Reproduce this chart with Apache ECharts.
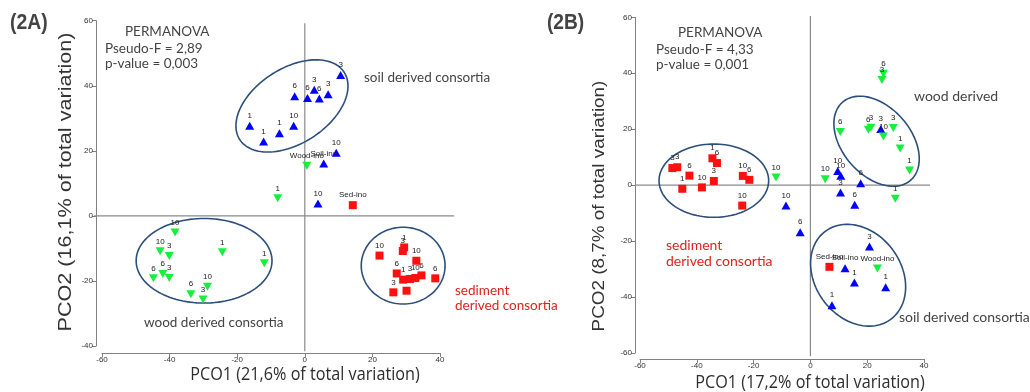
<!DOCTYPE html>
<html>
<head>
<meta charset="utf-8">
<script src="https://cdn.jsdelivr.net/npm/echarts@6/dist/echarts.min.js"></script>
<style>html,body{margin:0;padding:0;background:#fff}#c{width:1030px;height:392px}</style>
</head>
<body>
<div id="c"></div>
<script>
// ---------- DATA (x, y, label) ----------
// Panel 2A
const aSoil = [[10.6,43.3,'3'],[2.8,38.8,'3'],[-3.0,36.8,'6'],[0.8,36.2,'6'],[4.3,36.1,'6'],[6.9,37.4,'3'],
  [-3.3,27.7,'10'],[-16.3,27.7,'1'],[-12.2,22.9,'1'],[-7.5,25.4,'1'],[9.3,19.4,'10'],[5.6,16.1,'Soil-ino'],[3.9,3.8,'10']];
const aWood = [[0.6,15.4,'Wood-ino'],[-8.0,5.4,'1'],[-38.4,-5.1,'10'],[-42.8,-10.9,'10'],[-40.1,-12.3,'3'],
  [-24.4,-11.2,'1'],[-12.0,-14.6,'1'],[-44.8,-19.2,'6'],[-42.0,-17.9,'6'],[-40.1,-19.1,'3'],[-28.8,-21.8,'10'],
  [-33.7,-24.1,'6'],[-30.1,-25.7,'3']];
const aSed = [[14.2,3.3,'Sed-ino'],[22.1,-12.2,'10'],[29.4,-9.7,'1'],[29.0,-10.8,'3'],[33.0,-13.8,'10'],
  [27.2,-17.7,'6'],[29.1,-19.6,'1'],[31.1,-19.4,'3'],[32.7,-19.1,'10'],[34.5,-18.3,'6'],[38.6,-19.2,'6'],
  [26.2,-23.5,'3'],[30.1,-23.0,'']];
// ellipses: [cx, cy, rx, ry, angleDeg]
const aEllipses = [[-3.8,33.8,18.6,11.4,35],[-29.8,-13.8,20.1,13.0,0],[29.1,-15.3,12.4,11.8,0]];
const aCrossX = [-62.3,44.2];
const aCrossY = [-41.6,59.2];

// Panel 2B
const bSoil = [[24.8,20.1,'3'],[9.6,5.1,'10'],[10.7,3.4,'10'],[17.7,0.7,'6'],[10.6,-2.6,'3'],[15.6,-7.0,'6'],
  [-8.6,-7.3,'10'],[-3.6,-16.8,'6'],[20.8,-21.9,'3'],[12.2,-29.7,'Soil-ino'],[15.5,-34.8,'1'],[26.5,-36.5,'1'],[7.6,-42.9,'1']];
const bWood = [[-12.1,2.7,'10'],[5.2,2.1,'10'],[25.7,39.8,'6'],[25.2,37.6,'3'],[10.5,19.0,'6'],[20.4,19.8,'6'],
  [21.3,20.5,'3'],[25.7,17.4,'10'],[29.2,20.4,'3'],[31.6,13.1,'1'],[34.9,5.2,'1'],[29.9,-4.9,'1'],[23.6,-29.8,'Wood-ino']];
const bSed = [[-48.6,6.1,'3'],[-46.9,6.4,'3'],[-42.6,3.4,'6'],[-45.1,-1.3,'1'],[-38.2,-0.8,'10'],[-34.5,9.6,'1'],
  [-32.9,7.9,'6'],[-34.0,1.5,'3'],[-23.8,3.3,'10'],[-21.5,1.9,'6'],[-24.0,-7.3,'10'],[6.7,-29.2,'Sed-ino']];
const bEllipses = [[23.3,15.7,18.4,12.1,-50],[-34.0,1.6,19.3,13.1,0],[16.8,-32.2,19.5,15.2,-55]];
const bCrossX = [-61.7,42.1];
const bCrossY = [-61.2,60.5];

// ---------- CHART ----------
const BLUE = '#0000ff', GREEN = '#16f03c', RED = '#ff1010', ELL = '#2b4f7a', AX = '#808080';
const chart = echarts.init(document.getElementById('c'), null, {renderer: 'canvas'});

function axisCommon(min, max, offset) {
  return {
    type: 'value', min: min, max: max, interval: 20, offset: offset,
    axisLine: {show: true, onZero: false, lineStyle: {color: AX, width: 1}},
    axisTick: {show: true, length: 4, lineStyle: {color: AX}},
    axisLabel: {fontSize: 8, color: '#333', fontFamily: 'Liberation Sans, Arial', margin: 3},
    splitLine: {show: false}
  };
}

function scatter(data, idx, color, symbol, rotate, size) {
  return {
    type: 'scatter', xAxisIndex: idx, yAxisIndex: idx,
    data: data.map(d => ({value: [d[0], d[1]], name: d[2]})),
    symbol: symbol, symbolRotate: rotate, symbolSize: size,
    itemStyle: {color: color, opacity: 1},
    label: {show: true, position: 'top', distance: 2, formatter: p => p.name,
      fontSize: 8, color: '#222', fontFamily: 'Liberation Sans, Arial'},
    emphasis: {disabled: true}, z: 5
  };
}

function ellipses(list, idx) {
  return {
    type: 'custom', xAxisIndex: idx, yAxisIndex: idx, data: list.map(e => [e[0], e[1]]),
    encode: {x: 0, y: 1}, clip: false, silent: true, z: 3,
    renderItem: function (params, api) {
      const e = list[params.dataIndex];
      const a = e[4] * Math.PI / 180, pts = [];
      for (let i = 0; i < 120; i++) {
        const t = i / 120 * Math.PI * 2;
        const ux = e[2] * Math.cos(t), uy = e[3] * Math.sin(t);
        pts.push(api.coord([e[0] + ux * Math.cos(a) - uy * Math.sin(a), e[1] + ux * Math.sin(a) + uy * Math.cos(a)]));
      }
      return {type: 'polygon', shape: {points: pts}, style: {fill: 'none', stroke: ELL, lineWidth: 1.6}};
    }
  };
}

function cross(cx, cy, idx) {
  return {
    type: 'custom', xAxisIndex: idx, yAxisIndex: idx, data: [[0, 0]], encode: {x: 0, y: 1},
    clip: false, silent: true, z: 2,
    renderItem: function (params, api) {
      const h1 = api.coord([cx[0], 0]), h2 = api.coord([cx[1], 0]);
      const v1 = api.coord([0, cy[0]]), v2 = api.coord([0, cy[1]]);
      const st = {stroke: '#8a8a8a', lineWidth: 1.2};
      return {type: 'group', children: [
        {type: 'line', shape: {x1: h1[0], y1: h1[1], x2: h2[0], y2: h2[1]}, style: st},
        {type: 'line', shape: {x1: v1[0], y1: v1[1], x2: v2[0], y2: v2[1]}, style: st}
      ]};
    }
  };
}

const TXT = '#444';
function txt(x, y, s, size, color, extra, scaleX) {
  return {type: 'text', x: x, y: y, scaleX: scaleX || 1, style: Object.assign({text: s, fontSize: size, fill: color || TXT,
    fontFamily: 'Lato, Open Sans, sans-serif', textVerticalAlign: 'middle'}, extra || {})};
}

chart.setOption({
  animation: false,
  grid: [
    {left: 102, top: 20.7, width: 338, height: 325.3},
    {left: 640, top: 17.3, width: 284, height: 335.7}
  ],
  xAxis: [Object.assign(axisCommon(-60, 40, 7), {gridIndex: 0}), Object.assign(axisCommon(-60, 40, 6), {gridIndex: 1})],
  yAxis: [Object.assign(axisCommon(-40, 60, 6), {gridIndex: 0}), Object.assign(axisCommon(-60, 60, 5), {gridIndex: 1})],
  series: [
    cross(aCrossX, aCrossY, 0), cross(bCrossX, bCrossY, 1),
    ellipses(aEllipses, 0), ellipses(bEllipses, 1),
    scatter(aSoil, 0, BLUE, 'triangle', 0, [9, 8]),
    scatter(aWood, 0, GREEN, 'triangle', 180, [9, 8]),
    scatter(aSed, 0, RED, 'rect', 0, [8, 8]),
    scatter(bSoil, 1, BLUE, 'triangle', 0, [9, 8]),
    scatter(bWood, 1, GREEN, 'triangle', 180, [9, 8]),
    scatter(bSed, 1, RED, 'rect', 0, [8, 8])
  ],
  graphic: [
    txt(10, 23, '(2A)', 22, '#444', {fontWeight: 'bold', fontFamily: 'Liberation Sans, Arial'}, 0.88),
    txt(547, 23, '(2B)', 22, '#444', {fontWeight: 'bold', fontFamily: 'Liberation Sans, Arial'}, 0.87),
    txt(125, 32, 'PERMANOVA', 13.5),
    txt(105, 49, 'Pseudo-F = 2,89', 13.5),
    txt(105, 64, 'p-value = 0,003', 13.5),
    txt(678, 33, 'PERMANOVA', 13.5),
    txt(656, 50, 'Pseudo-F = 4,33', 13.5),
    txt(656, 65, 'p-value = 0,001', 13.5),
    txt(364, 78, 'soil derived consortia', 13.5),
    txt(144, 323, 'wood derived consortia', 13.5),
    txt(455, 291, 'sediment', 13.5, '#e02020'),
    txt(455, 306, 'derived consortia', 13.5, '#e02020'),
    txt(914, 96, 'wood derived', 14),
    txt(666, 245, 'sediment', 14, '#e02020'),
    txt(666, 261, 'derived consortia', 14, '#e02020'),
    txt(899, 317, 'soil derived consortia', 14),
    // axis titles
    txt(305, 375, 'PCO1 (21,6% of total variation)', 18, '#2e2e2e', {textAlign: 'center', fontFamily: 'Open Sans, sans-serif'}, 0.9),
    txt(810, 383, 'PCO1 (17,2% of total variation)', 18, '#2e2e2e', {textAlign: 'center', fontFamily: 'Open Sans, sans-serif'}, 0.9),
    {type: 'text', x: 66, y: 182, rotation: Math.PI / 2, scaleX: 1.2,
      style: {text: 'PCO2 (16,1% of total variation)', fontSize: 18, fill: '#333', fontFamily: 'Liberation Sans, Arial',
        textAlign: 'center', textVerticalAlign: 'middle'}},
    {type: 'text', x: 600, y: 206, rotation: Math.PI / 2, scaleX: 1.18,
      style: {text: 'PCO2 (8,7% of total variation)', fontSize: 16, fill: '#333', fontFamily: 'Liberation Sans, Arial',
        textAlign: 'center', textVerticalAlign: 'middle'}}
  ]
});
</script>
</body>
</html>
